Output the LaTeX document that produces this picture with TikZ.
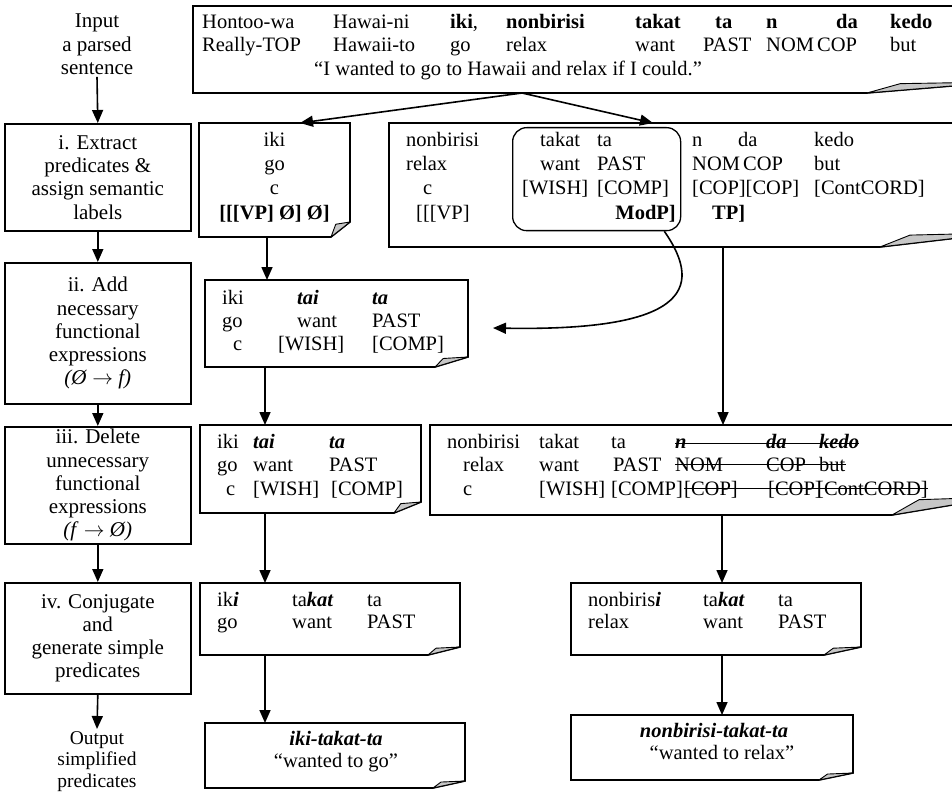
\documentclass[tikz,border=0pt]{standalone}
\usepackage{fontspec}
\setmainfont{Liberation Serif}
\usetikzlibrary{arrows.meta,calc}
\newcommand\lfont{\fontsize{21}{23.3}\selectfont}
\newcommand\ofont{\fontsize{19.5}{21.6}\selectfont}
\tikzset{
  bx/.style={line width=1.6pt, line join=miter},
  foldst/.style={fill=black!22, draw=black, line width=0.9pt, line join=round},
  tx/.style={anchor=base west, inner sep=0pt},
  txc/.style={anchor=base, inner sep=0pt},
  txe/.style={anchor=base east, inner sep=0pt},
  arr/.style={line width=1.6pt, -{Triangle[length=13pt,width=11pt]}},
  lbox/.style={draw, line width=1.6pt, anchor=north west, inner sep=0pt, align=center, font=\lfont},
  ltext/.style={anchor=north, align=center, inner sep=2pt, font=\lfont},
  strike/.style={line width=1pt},
}
\newcommand\docbox[7]{%
  \node[inner sep=0pt, outer sep=0pt, minimum width={(#4-#2)*1pt}, minimum height={(#5-#3)*1pt}, anchor=north west] (#1) at (#2,#3) {};
  \draw[bx] (#1.north west) -- (#1.north east) -- ([yshift=#7pt]#1.south east) -- ([xshift=-#6pt]#1.south east) -- (#1.south west) -- cycle;
  \filldraw[foldst] ([xshift=-#6pt]#1.south east) -- ([xshift={-0.75*#6pt},yshift={0.85*#7pt}]#1.south east) -- ([yshift=#7pt]#1.south east) -- cycle;
}
\newcommand\tx[4]{\node[tx] (#1) at (#2,#3) {#4};}
\newcommand\bi[1]{\textbf{\textit{#1}}}
\begin{document}
\begin{tikzpicture}[x=1pt,y=-1pt,font=\fontsize{20.5}{24}\selectfont]
\useasboundingbox (0,0) rectangle (952,794);
\begin{scope}
\clip (0,0) rectangle (952,794);
% ---------------- left column
\node[ltext] (inp) at (97,12) {Input\\a parsed\\sentence};
\node[lbox, minimum width=186pt, minimum height=107pt] (s1) at (4,123) {i. Extract\\predicates \&\\assign semantic\\labels};
\node[lbox, minimum width=186pt, minimum height=141pt] (s2) at (4,262) {ii. Add\\necessary\\functional\\expressions\\\textit{(Ø} $\rightarrow$ \textit{f)}};
\node[lbox, minimum width=186pt, minimum height=117pt] (s3) at (4,426) {iii. Delete\\unnecessary\\functional\\expressions\\\textit{(f} $\rightarrow$ \textit{Ø)}};
\node[lbox, minimum width=186pt, minimum height=111pt] (s4) at (4,582) {iv. Conjugate\\and\\generate simple\\predicates};
\node[ltext, font=\ofont] (outp) at (97,729) {Output\\simplified\\predicates};
\draw[arr] (inp.south) -- (s1.north);
\draw[arr] (s1.south) -- (s2.north);
\draw[arr] (s2.south) -- (s3.north);
\draw[arr] (s3.south) -- (s4.north);
\draw[arr] (s4.south) -- (outp.north);
% ---------------- boxes
\docbox{T}{193}{6}{1000}{93}{133}{11}
\docbox{A1}{199}{123}{350}{237}{19}{15}
\docbox{A2}{389}{123}{1000}{247}{120}{14}
\docbox{B1}{205}{280}{468}{367}{33}{10}
\docbox{C1}{200}{425}{421}{513}{27}{11}
\docbox{C2}{430}{425}{1000}{515}{108}{18}
\docbox{D1}{200}{583}{460}{655}{32}{8}
\docbox{D2}{571}{583}{861}{655}{37}{8}
\docbox{E1}{205}{723}{465}{788}{32}{7}
\docbox{E2}{571}{715}{853}{780}{34}{7}
\node[draw, line width=1.3pt, rounded corners=14pt, inner sep=0pt, minimum width=168pt, minimum height=103pt, anchor=north west] (R) at (512,127) {};
% ---------------- top sentence
\tx{ta1}{202}{29}{Hontoo-wa}
\tx{ta2}{333}{29}{Hawai-ni}
\tx{ta3}{450}{29}{\textbf{iki},}
\tx{ta4}{506}{29}{\textbf{nonbirisi}}
\tx{ta5}{635}{29}{\textbf{takat}}
\tx{ta6}{715}{29}{\textbf{ta}}
\tx{ta7}{766}{29}{\textbf{n}}
\tx{ta8}{836}{29}{\textbf{da}}
\tx{ta9}{890}{29}{\textbf{kedo}}
\tx{tb1}{202}{52}{Really-TOP}
\tx{tb2}{333}{52}{Hawaii-to}
\tx{tb3}{450}{52}{go}
\tx{tb4}{506}{52}{relax}
\tx{tb5}{635}{52}{want}
\tx{tb6}{703}{52}{PAST}
\tx{tb7}{766}{52}{NOM}
\tx{tb8}{817}{52}{COP}
\tx{tb9}{890}{52}{but}
\tx{tc1}{314}{76}{“I wanted to go to Hawaii and relax if I could.”}
% ---------------- step i
\node[txc] (a1a) at (274.5,147) {iki};
\node[txc] (a1b) at (274.5,171) {go};
\node[txc] (a1c) at (274.5,195) {c};
\node[txc] (a1d) at (274.5,220) {\textbf{[[[VP] Ø] Ø]}};
\tx{a2a1}{406}{147}{nonbirisi}
\tx{a2b1}{406}{171}{relax}
\tx{a2c1}{423}{195}{c}
\tx{a2d1}{416}{220}{[[[VP]}
\tx{a2a2}{540}{147}{takat}
\tx{a2a3}{597}{147}{ta}
\tx{a2b2}{540}{171}{want}
\tx{a2b3}{597}{171}{PAST}
\tx{a2c2}{522}{195}{[WISH]}
\tx{a2c3}{597}{195}{[COMP]}
\node[txe] (a2d2) at (676,220) {\textbf{ModP]}};
\tx{a2a4}{692}{147}{n}
\tx{a2a5}{738}{147}{da}
\tx{a2a6}{814}{147}{kedo}
\tx{a2b4}{692}{171}{NOM}
\tx{a2b5}{743}{171}{COP}
\tx{a2b6}{814}{171}{but}
\tx{a2c4}{692}{195}{[COP][COP]}
\tx{a2c6}{814}{195}{[ContCORD]}
\tx{a2d3}{712}{220}{\textbf{TP]}}
% ---------------- step ii
\tx{b1a1}{222}{304}{iki}
\tx{b1a2}{297}{304}{\bi{tai}}
\tx{b1a3}{372}{304}{\bi{ta}}
\tx{b1b1}{222}{327}{go}
\tx{b1b2}{297}{327}{want}
\tx{b1b3}{372}{327}{PAST}
\tx{b1c1}{233}{350}{c}
\tx{b1c2}{278}{350}{[WISH]}
\tx{b1c3}{372}{350}{[COMP]}
% ---------------- step iii
\tx{c1a1}{217}{448}{iki}
\tx{c1a2}{253}{448}{\bi{tai}}
\tx{c1a3}{329}{448}{\bi{ta}}
\tx{c1b1}{217}{471}{go}
\tx{c1b2}{253}{471}{want}
\tx{c1b3}{329}{471}{PAST}
\tx{c1c1}{226}{495}{c}
\tx{c1c2}{253}{495}{[WISH]}
\tx{c1c3}{331}{495}{[COMP]}
\tx{c2a1}{447}{448}{nonbirisi}
\tx{c2a2}{539}{448}{takat}
\tx{c2a3}{611}{448}{ta}
\tx{c2a4}{675}{448}{\bi{n}}
\tx{c2a5}{766}{448}{\bi{da}}
\tx{c2a6}{819}{448}{\bi{kedo}}
\tx{c2b1}{463}{471}{relax}
\tx{c2b2}{539}{471}{want}
\tx{c2b3}{613}{471}{PAST}
\tx{c2b4}{675}{471}{NOM}
\tx{c2b5}{766}{471}{COP}
\tx{c2b6}{819}{471}{but}
\tx{c2c1}{463}{495}{c}
\tx{c2c2}{539}{495}{[WISH]}
\tx{c2c3}{611}{495}{[COMP]}
\tx{c2c4}{684}{495}{[COP]}
\tx{c2c5}{768}{495}{[COP]}
\tx{c2c6}{817}{495}{[ContCORD]}
\draw[strike] ([yshift=5pt]c2a4.base west) -- ([yshift=5pt]c2a6.base east);
\draw[strike] ([yshift=6.5pt]c2b4.base west) -- ([yshift=6.5pt]c2b6.base east);
\draw[strike] ([yshift=6.5pt]c2c4.base west) -- ([yshift=6.5pt]c2c6.base east);
% ---------------- step iv
\tx{d1a1}{217}{606}{ik\bi{i}}
\tx{d1a2}{292}{606}{ta\bi{kat}}
\tx{d1a3}{367}{606}{ta}
\tx{d1b1}{217}{628}{go}
\tx{d1b2}{292}{628}{want}
\tx{d1b3}{367}{628}{PAST}
\tx{d2a1}{588}{606}{nonbiris\bi{i}}
\tx{d2a2}{703}{606}{ta\bi{kat}}
\tx{d2a3}{778}{606}{ta}
\tx{d2b1}{588}{628}{relax}
\tx{d2b2}{703}{628}{want}
\tx{d2b3}{778}{628}{PAST}
% ---------------- output
\node[txc] (e1a) at (336,745) {\bi{iki-takat-ta}};
\node[txc] (e1b) at (336,767) {“wanted to go”};
\node[txc] (e2a) at (714,737) {\bi{nonbirisi-takat-ta}};
\node[txc] (e2b) at (722,759) {“wanted to relax”};
% ---------------- connectors
\coordinate (tsrc) at ($(T.south west)+(329,0)$);
\draw[arr] (tsrc) -- ($(A1.north west)+(101,0)$);
\draw[arr] (tsrc) -- ($(A2.north west)+(264,0)$);
\draw[arr] ($(A1.south west)+(68,0)$) -- ($(B1.north west)+(62,0)$);
\coordinate (cvend) at ($(B1.east)+(25,4.5)$);
\draw[arr] ($(R.south east)+(-17,0)$) .. controls ($(R.south east)+(25,60)$) and ($(R.south east)+(0,100)$) .. (cvend);
\draw[arr] ($(A2.south west)+(334,0)$) -- ($(C2.north west)+(293,0)$);
\draw[arr] ($(B1.south west)+(60,0)$) -- ($(C1.north west)+(65,0)$);
\draw[arr] ($(C1.south west)+(65,0)$) -- ($(D1.north west)+(65,0)$);
\draw[arr] ($(C2.south west)+(292,0)$) -- ($(D2.north west)+(151,0)$);
\draw[arr] ($(D1.south west)+(65,0)$) -- ($(E1.north west)+(60,0)$);
\draw[arr] ($(D2.south west)+(151,0)$) -- ($(E2.north west)+(151,0)$);
\end{scope}
\end{tikzpicture}
\end{document}
